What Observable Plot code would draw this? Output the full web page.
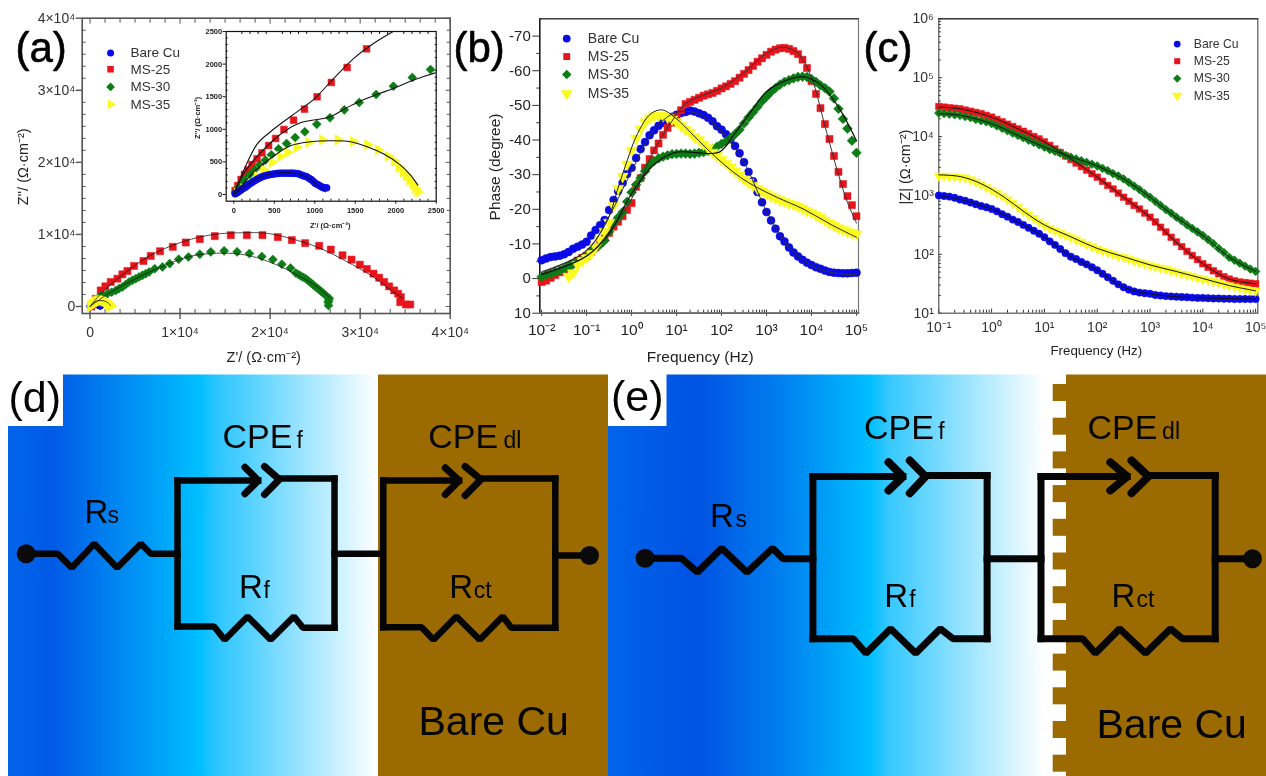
<!DOCTYPE html>
<html><head><meta charset="utf-8">
<script src="https://cdn.jsdelivr.net/npm/d3@7"></script>
<script src="https://cdn.jsdelivr.net/npm/@observablehq/plot@0.6"></script>
<style>
html,body{margin:0;padding:0;background:#fff}
#page{position:relative;width:1266px;height:776px;overflow:hidden;background:#fff}
#page svg{position:absolute;overflow:visible;background:transparent}
.soft{filter:blur(0.45px)}
</style></head><body><div id="page"></div>
<script>
const names=["Bare Cu","MS-25","MS-30","MS-35"];
const colors=["#0a0ae6","#e8141c","#0c7d14","#fafa1e"];
const symbols=["circle","square","square","triangle"];

// (a) Nyquist, main plot [Z', Z'']
const ny25=[[150,0],[630,1070],[1185,2230],[1700,2800],[2300,3400],[3040,3860],[3590,4460],[4150,4930],[4890,5630],[5930,6320],[6740,7020],[7780,7670],[9190,8280],[10630,8880],[12190,9350],[13850,9770],[15630,9900],[17410,9900],[19150,9900],[20850,9630],[22410,9210],[23890,8790],[25450,8420],[26740,7900],[28040,7110],[29040,6510],[29960,5810],[30740,5210],[31480,4560],[32110,4000],[32670,3400],[33220,2790],[33780,2230],[34220,1770],[34520,1300],[34450,600],[35080,280],[35560,280]];
const ny30=[[100,100],[600,800],[1185,1530],[1930,1770],[2400,1980],[2850,2230],[3220,2480],[3590,2700],[3960,3050],[4330,3400],[4700,3640],[5070,3860],[5440,4090],[5810,4320],[6180,4560],[6560,4790],[7190,5250],[8040,5490],[8850,5950],[9850,6560],[10930,6880],[12190,7250],[13410,7580],[14890,7720],[16330,7580],[17700,7350],[19080,6930],[20300,6510],[21300,5860],[22260,5350],[22850,4650],[23140,4440],[23410,4230],[23680,4050],[23960,3860],[24240,3580],[24520,3300],[24800,3000],[25080,2700],[25350,2420],[25630,2140],[25910,1840],[26190,1530],[26560,1160],[26500,850],[26450,600],[26480,140]];
const fit25=[[0,0],[1185,1770],[3780,4560],[6740,7110],[10630,9110],[13780,10000],[16740,10230],[19700,10140],[22670,9300],[25630,8040],[28590,6180],[31190,4320],[33220,2460],[34700,1160]];
const fit30=[[0,0],[2300,2000],[5630,4190],[8590,5860],[11190,6980],[13410,7350],[16000,7350],[18220,6880],[20820,5720],[23410,4090],[25260,2700],[26560,1300]];

// (a) inset [Z', Z'']
const in25=[[16,61],[49,138],[90,230],[131,307],[176,378],[225,460],[287,547],[348,639],[430,751],[516,859],[619,997],[738,1140],[873,1309],[1029,1498],[1205,1718],[1400,1948],[1640,2234]];
const in30=[[20,36],[61,112],[107,179],[156,250],[205,317],[258,383],[320,455],[389,527],[463,608],[553,700],[652,782],[758,874],[877,961],[1025,1079],[1188,1176],[1365,1298],[1549,1411],[1758,1534],[1971,1661],[2205,1794],[2430,1917]];
const in35=[[41,20],[123,87],[205,179],[287,281],[369,378],[471,496],[574,583],[664,649],[779,726],[922,797],[1094,838],[1287,838],[1475,813],[1652,762],[1783,685],[1906,588],[1983,511],[2041,419],[2090,342],[2131,286],[2172,215],[2213,153],[2246,87],[2274,36]];
const inBare=[[16,10],[32,22],[49,36],[70,55],[90,72],[115,92],[143,112],[170,138],[197,164],[222,184],[246,204],[272,222],[299,240],[323,256],[348,271],[373,282],[398,291],[425,300],[451,307],[480,312],[508,317],[537,322],[565,327],[596,327],[627,327],[657,327],[688,327],[713,327],[738,327],[768,322],[799,317],[825,304],[852,291],[877,281],[901,271],[928,250],[955,230],[980,202],[1004,174],[1030,156],[1057,138],[1082,120],[1106,102],[1127,100],[1147,102]];
const fitIn25=[[0,0],[124,374],[288,773],[453,963],[823,1306],[988,1459],[1235,1782],[1482,2089],[1730,2320],[1968,2500]];
const fitIn30=[[0,0],[124,323],[329,640],[618,963],[823,1100],[1194,1193],[1380,1321],[1565,1434],[1771,1536],[1977,1628],[2224,1756],[2500,1869]];
const fitIn35=[[41,41],[247,348],[453,553],[700,748],[947,809],[1235,824],[1441,809],[1647,732],[1853,620],[2059,451],[2183,297],[2273,143]];
const fitInBare=[[0,0],[100,90],[250,220],[400,300],[600,335],[800,315],[950,225],[1050,130],[1130,40]];

// (b) Bode phase; frequency sweep in decades
const logFreqB=d3.range(71).map(i=>-2+i/10);
const phaseBare=[-5.3,-5.8,-6.2,-6.4,-6.6,-7,-7.7,-8.6,-9.2,-9.8,-10.6,-12.4,-14,-15.4,-16.9,-19.8,-22.7,-25.3,-27.6,-30.2,-32,-34.8,-37.4,-39.4,-41.4,-42.8,-44.1,-45,-45.7,-46.7,-47.3,-47.8,-48.1,-48.5,-48.2,-47.7,-47.2,-46.4,-45.4,-44,-43,-41.7,-40.2,-38.3,-36.2,-33.6,-30.8,-28.1,-25,-22,-19.2,-16.8,-14.4,-12.2,-10.7,-9,-7.5,-6.4,-5.4,-4.6,-3.9,-3.3,-2.8,-2.3,-1.9,-1.7,-1.6,-1.5,-1.5,-1.6,-1.7];
const phase25=[1,.6,-.2,-1,-1.8,-2.6,-3.4,-4.3,-5.2,-6,-6.6,-7.7,-9,-10.2,-11.6,-13.2,-15,-16.4,-18,-19.8,-21.8,-26.5,-29,-32,-34.5,-37,-39,-41.5,-43.5,-45,-46.8,-48.6,-50.4,-51,-51.6,-52.2,-52.8,-53.2,-53.6,-54.2,-54.9,-55.5,-56.2,-57,-58,-59.1,-60.2,-61.4,-62.6,-63.6,-64.6,-65.5,-66.1,-66.5,-66.6,-66.3,-65.7,-64.8,-63.2,-60.8,-57,-53.3,-49.2,-44.6,-40.3,-35.4,-30.8,-27.3,-23.8,-21.2,-18];
const phase30=[-.5,-1,-1.4,-1.9,-2.3,-2.8,-3.5,-4.1,-4.7,-5.4,-6.2,-7.8,-8.8,-9.8,-11,-13.5,-16,-17.6,-19.2,-22.2,-24.9,-27.1,-29,-31,-32.8,-33.9,-34.7,-35.2,-35.6,-35.9,-36,-36.1,-36.1,-36,-36.1,-36.3,-36.5,-36.9,-37.4,-38.1,-38.9,-39.6,-40.6,-41.7,-43,-44.8,-46.5,-48,-49.6,-51.2,-52.5,-53.9,-55,-56,-56.8,-57.3,-57.8,-58.2,-58.3,-58.2,-57.6,-56.8,-55.8,-55,-54,-52,-49,-46.1,-43.3,-39.8,-36.3];
const phase35=[null,null,null,null,null,null,-.6,-1.6,-4,-5.2,-6,-7.2,-9.2,-11.2,-13.6,-16.2,-21,-26,-29.5,-33,-37,-40.5,-43.2,-45.2,-46.3,-46.9,-47.1,-47,-46.6,-46,-45.2,-44.1,-43,-42.2,-40.9,-40,-38.8,-37.7,-36.4,-35.5,-34.3,-33.2,-32.1,-31,-29.8,-28.7,-27.8,-26.9,-26,-25.2,-24.5,-23.8,-23.2,-22.7,-22.2,-21.7,-21.3,-20.9,-20.3,-19.6,-19,-18.3,-17.6,-16.8,-16,-15.3,-14.6,-14.1,-13.6,-13.2,-12.8];
const fitPhaseBare=[[-2,-2],[-1,-8],[-.5,-18],[0,-31],[.5,-43],[1,-48],[1.5,-47.5],[2,-42.5],[2.5,-33.5],[3,-19.5],[3.5,-9],[4,-3.8],[4.5,-1.6],[5,-1.2]];
const fitPhase25=[[-2,-1],[-1,-6.5],[-.5,-13.5],[0,-23],[.5,-37],[.9,-45.5],[1.2,-50.5],[1.6,-53],[2,-55],[2.5,-59.5],[3,-65],[3.35,-66.8],[3.7,-65],[4,-58],[4.3,-44],[4.6,-30],[4.8,-22],[5,-16]];
const fitPhase30=[[-2,-1.2],[-1,-6.5],[-.5,-13],[0,-24.5],[.5,-33],[1,-36.5],[1.5,-36.3],[1.95,-36.5],[2.3,-42],[2.7,-49],[3,-54],[3.5,-57.5],[3.8,-58.3],[4.2,-56],[4.6,-49.5],[5,-39.8]];
const fitPhase35=[[-2,-1.7],[-1.06,-7.5],[-.54,-16.7],[-.32,-25.4],[-.1,-34],[.13,-41.8],[.42,-47.5],[.68,-48.7],[1.01,-46],[1.31,-42.2],[1.68,-37.4],[2.05,-33],[2.42,-29.2],[2.79,-26.3],[3.24,-23.4],[3.83,-20],[4.42,-15.7],[5,-11.9]];

// (c) Bode modulus as log10|Z|
const logFreqC=d3.range(61).map(i=>-1+i/10);
const logZBare=[3,2.99,2.98,2.96,2.93,2.91,2.88,2.85,2.82,2.8,2.77,2.73,2.68,2.64,2.59,2.55,2.5,2.45,2.4,2.35,2.29,2.22,2.16,2.09,2.02,1.96,1.92,1.87,1.83,1.78,1.73,1.67,1.61,1.55,1.49,1.44,1.4,1.37,1.35,1.34,1.33,1.31,1.3,1.29,1.285,1.28,1.275,1.27,1.265,1.26,1.26,1.255,1.25,1.25,1.245,1.245,1.24,1.24,1.24,1.24,1.24];
const logZ25=[4.51,4.5,4.49,4.48,4.47,4.45,4.43,4.41,4.39,4.36,4.33,4.29,4.25,4.21,4.17,4.13,4.09,4.05,4,3.96,3.91,3.85,3.79,3.73,3.67,3.61,3.55,3.49,3.43,3.37,3.31,3.24,3.17,3.11,3.04,2.97,2.9,2.83,2.77,2.7,2.63,2.55,2.46,2.38,2.29,2.21,2.13,2.05,1.98,1.91,1.84,1.78,1.72,1.67,1.62,1.58,1.55,1.53,1.52,1.51,1.5];
const logZ30=[4.4,4.39,4.38,4.37,4.36,4.34,4.32,4.29,4.27,4.25,4.22,4.18,4.14,4.1,4.06,4.02,3.98,3.94,3.9,3.86,3.82,3.78,3.75,3.72,3.68,3.65,3.62,3.59,3.56,3.53,3.5,3.46,3.42,3.37,3.33,3.28,3.22,3.16,3.1,3.03,2.97,2.9,2.83,2.76,2.7,2.63,2.57,2.5,2.44,2.38,2.32,2.25,2.18,2.1,2.03,1.95,1.9,1.85,1.8,1.75,1.71];
const logZ35=[3.33,3.33,3.32,3.32,3.31,3.3,3.27,3.23,3.19,3.14,3.09,3.04,2.99,2.93,2.87,2.8,2.73,2.67,2.61,2.55,2.49,2.44,2.4,2.36,2.32,2.29,2.25,2.21,2.17,2.13,2.09,2.06,2.03,2,1.97,1.95,1.92,1.89,1.86,1.84,1.81,1.79,1.77,1.75,1.72,1.7,1.67,1.65,1.63,1.6,1.58,1.56,1.54,1.52,1.49,1.47,1.45,1.43,1.41,1.39,1.38];
const fitZBare=[[-1,3],[-.59,2.93],[0,2.77],[.5,2.55],[1,2.29],[1.52,1.95],[2,1.73],[2.5,1.44],[3,1.33],[3.49,1.28],[4,1.26],[5,1.24]];
const fitZ25=[[-1,4.5],[-.59,4.47],[0,4.33],[.5,4.13],[1,3.91],[1.52,3.61],[2,3.31],[2.5,2.97],[3,2.63],[3.49,2.21],[4,1.84],[4.5,1.58],[5,1.5]];
const fitZ30=[[-1,4.39],[-.59,4.36],[0,4.22],[.5,4.02],[1,3.82],[1.52,3.65],[2,3.5],[2.5,3.28],[3,2.97],[3.49,2.63],[4,2.32],[4.5,1.95],[5,1.71]];
const fitZ35=[[-1,3.35],[-.59,3.32],[-.2,3.2],[.24,2.97],[.62,2.72],[1,2.5],[1.52,2.29],[2,2.1],[2.5,1.96],[3,1.82],[3.49,1.71],[4,1.59],[4.5,1.47],[5,1.38]];

// tick labels
const xTicksA=[0,1e4,2e4,3e4,4e4], xLabelsA=["0","1×10⁴","2×10⁴","3×10⁴","4×10⁴"];
const minorA=d3.range(0,4e4,1e4).flatMap(k=>[1,2,3,4,5].map(i=>k+i*1e4/6));
const insetTicks=[0,500,1000,1500,2000,2500];
const insetMinor=[100,200,300,400,600,700,800,900,1100,1200,1300,1400,1600,1700,1800,1900,2100,2200,2300,2400];
const decadesB=[-2,-1,0,1,2,3,4,5], labelsB=["10⁻²","10⁻¹","10⁰","10¹","10²","10³","10⁴","10⁵"];
const decadesC=[-1,0,1,2,3,4,5], labelsC=["10⁻¹","10⁰","10¹","10²","10³","10⁴","10⁵"];
const decadesCy=[1,2,3,4,5,6], labelsCy=["10¹","10²","10³","10⁴","10⁵","10⁶"];
const phaseTicks=[-70,-60,-50,-40,-30,-20,-10,0,10], phaseMinor=[-65,-55,-45,-35,-25,-15,-5,5];
const minorsLog=(from,to)=>d3.range(from,to).flatMap(k=>[2,3,4,5,6,7,8,9].map(m=>m*10**k));
const decadeLabel=(decs,labs)=>d=>labs[decs.indexOf(Math.round(Math.log10(d)))];

// circuit geometry of (d) and (e), in page pixels
const teeth=[384,417.7,451.4,485.1,518.8,552.5,586.2,619.9,653.6,687.3,721,754.7];
const wiresD=[
 [[25.7,553.3],[57.3,553.3],[71.2,567.3],[93.7,543.3],[116.6,567.3],[140.4,543.3],[150.3,553.3],[177,553.3]],
 [[334,478],[278.8,478]],[[177,480],[257.8,480]],[[177,480],[177,626]],[[334,478],[334,627.3]],
 [[177,626],[213.5,626],[224.2,639.3],[247.1,616],[270.1,639.3],[293.4,616],[302.5,627.3],[334,627.3]],
 [[334,553.3],[381.6,553.3]],
 [[382.8,480],[458.7,480]],[[480.4,478],[554.8,478]],[[382.8,480],[382.8,626.7]],[[554.8,478],[554.8,627.3]],
 [[382.8,626.7],[421.1,626.7],[433,639.3],[455.9,616],[479.2,639.3],[502.2,616],[510.9,627.3],[554.8,627.3]],
 [[554.8,555],[589,555]]
];
const chevronsD=[
 [[244.4,466.7],[257.8,480],[244.4,493.3]],[[264,466],[278.8,479],[264,494]],
 [[444.8,467.3],[458.7,480],[444.8,494]],[[464.6,466],[480.4,479],[464.6,495]]
];
const wiresE=[
 [[644.6,557.7],[680.7,557.7],[696.9,571.7],[721.1,547.7],[746.6,571.7],[772,547.7],[782.7,558.3],[812.4,558.3]],
 [[812.4,476],[902.5,476]],[[925,475],[986.6,475]],[[812.4,476],[812.4,638.3]],[[986.6,475],[986.6,638.3]],
 [[812.4,638.3],[852.8,638.3],[865.5,652.7],[890.1,628.3],[915.2,652.7],[939.8,628.3],[952.6,638.3],[986.6,638.3]],
 [[986.6,558.3],[1040.5,558.3]],
 [[1040.5,476],[1126.8,476]],[[1148,475],[1214.7,475]],[[1040.5,476],[1040.5,638.3]],[[1214.7,475],[1214.7,638.3]],
 [[1040.5,638.3],[1082.2,638.3],[1094.9,652.7],[1119.1,628.3],[1145,652.7],[1170,628.3],[1182,638.3],[1214.7,638.3]],
 [[1214.7,558.3],[1250,558.3]]
];
const chevronsE=[
 [[888,461.7],[902.5,476],[888,490]],[[909.3,460],[925,476],[909.3,492.7]],
 [[1109.8,461.7],[1126.8,476],[1109.8,490]],[[1131,460],[1148,476],[1131,492.7]]
];
const terminals=[[25.7,553.3],[589,555],[644.6,557.7],[1252,558.3]];
const circuitLabels=[
 {t:"(d)",x:8,y:411.5,s:43},{t:"(e)",x:610.5,y:410,s:43},
 {t:"CPE",x:222,y:447,s:34},{t:"f",x:296,y:447,s:23},{t:"R",x:84,y:522,s:33},{t:"s",x:107,y:522,s:23},
 {t:"R",x:238.4,y:597,s:33},{t:"f",x:263,y:597,s:23},{t:"CPE",x:427.8,y:447,s:34},{t:"dl",x:503,y:447,s:23},
 {t:"R",x:448.8,y:597,s:33},{t:"ct",x:473.3,y:597,s:23},{t:"Bare Cu",x:418,y:734,s:41},
 {t:"CPE",x:863.4,y:438.5,s:34},{t:"f",x:937.7,y:438.5,s:23},{t:"R",x:709.6,y:526.7,s:33},{t:"s",x:735,y:526.7,s:23},
 {t:"R",x:883.8,y:606.7,s:33},{t:"f",x:908.8,y:606.7,s:23},{t:"CPE",x:1087,y:438.5,s:34},{t:"dl",x:1161.6,y:438.5,s:23},
 {t:"R",x:1111,y:606.7,s:33},{t:"ct",x:1136,y:606.7,s:23},{t:"Bare Cu",x:1096,y:737,s:41}
];

const FONT='"Liberation Sans",Arial,sans-serif';
const page=document.getElementById("page");
function place(node,left,top,soft=true){
  node.style.left=left+"px";node.style.top=top+"px";
  if(soft)node.classList.add("soft");
  page.appendChild(node);
}
const symbolRotate=(i,tri)=>i===2?45:i===3?tri:0;
const points=(data,i,r,tri=0,opts={})=>Plot.dot(data,{x:d=>d[0],y:d=>d[1],symbol:symbols[i],fill:colors[i],stroke:colors[i],strokeWidth:.5,r,rotate:symbolRotate(i,tri),...opts});
const fitLine=(data,w=1,o={})=>Plot.line(data,{x:d=>d[0],y:d=>d[1],stroke:"#111",strokeWidth:w,curve:"catmull-rom",...o});
function legend(xVal,textVal,rows,size,radii,tri,color="#333"){
  return [
    ...names.map((n,i)=>Plot.dot([n],{x:()=>xVal,y:()=>rows[i],symbol:symbols[i],fill:colors[i],r:radii[i],rotate:symbolRotate(i,tri)})),
    Plot.text(names,{x:()=>textVal,y:(d,i)=>rows[i],text:d=>d,textAnchor:"start",fontSize:size,fill:color})
  ];
}
const axisText=(text,o)=>Plot.text([text],{text:d=>d,fill:"#222",...o});

// ---------- (a)
const panelA=Plot.plot({
  width:450,height:370,marginLeft:81.7,marginRight:.3,marginTop:17.7,marginBottom:57,
  style:{fontFamily:FONT,background:"transparent",overflow:"visible"},
  x:{domain:[-870,40000]},y:{domain:[-970,40000]},
  marks:[
    Plot.axisX({ticks:minorA,tickSize:4,dy:-4,tickFormat:()=>"",stroke:"#555"}),
    Plot.axisX({anchor:"top",ticks:minorA,tickSize:4,dy:4,tickFormat:()=>"",stroke:"#555"}),
    Plot.axisX({anchor:"top",ticks:xTicksA,tickSize:5,dy:5,tickFormat:()=>"",stroke:"#555"}),
    Plot.axisY({ticks:minorA,tickSize:4,dx:4,tickFormat:()=>"",stroke:"#555"}),
    Plot.axisY({anchor:"right",ticks:minorA,tickSize:4,dx:-4,tickFormat:()=>"",stroke:"#555"}),
    Plot.axisY({anchor:"right",ticks:xTicksA,tickSize:5,dx:-5,tickFormat:()=>"",stroke:"#555"}),
    Plot.axisX({ticks:xTicksA,tickSize:6,tickPadding:8,fontSize:14,fill:"#333",stroke:"#555",strokeWidth:1.4,tickFormat:(d,i)=>xLabelsA[i],label:null}),
    Plot.axisX({ticks:xTicksA,tickSize:5,dy:-5,tickFormat:()=>"",stroke:"#555",strokeWidth:1.4}),
    Plot.axisY({ticks:xTicksA,tickSize:6,tickPadding:1,fontSize:14,fill:"#333",stroke:"#555",strokeWidth:1.4,tickFormat:(d,i)=>xLabelsA[i],label:null}),
    Plot.frame({stroke:"#555",strokeWidth:1.6}),
    ...legend(2280,4500,[35180,32920,30460,28060],13.5,[3.5,3.7,3.5,3.6],90),
    points(inBare,0,3.4),points(ny25,1,4),points(ny30,2,3.6),points(in35,3,4,90),
    fitLine(fit25,.8,{strokeDasharray:"3 1"}),fitLine(fit30,.8,{strokeDasharray:"3 1"}),fitLine(fitIn35,.8),
    axisText("Z'/ (Ω·cm⁻²)",{frameAnchor:"bottom",dx:-2.5,dy:44,fontSize:14.5,lineAnchor:"middle"}),
    axisText("Z''/ (Ω·cm⁻²)",{frameAnchor:"left",textAnchor:"middle",dx:-59,dy:1,rotate:-90,fontSize:14.5})
  ]
});
place(panelA,0,0);

// inset
const inset=Plot.plot({
  width:260,height:240,marginLeft:35.7,marginRight:14.3,marginTop:31,marginBottom:39.3,
  style:{fontFamily:FONT,background:"transparent",overflow:"visible"},
  x:{domain:[-94,2500]},y:{domain:[-103,2500]},
  marks:[
    Plot.axisX({ticks:insetMinor,tickSize:2,dy:-2,tickFormat:()=>"",stroke:"#111"}),
    Plot.axisX({anchor:"top",ticks:insetMinor,tickSize:2,dy:2,tickFormat:()=>"",stroke:"#111"}),
    Plot.axisY({ticks:insetMinor,tickSize:2,dx:2,tickFormat:()=>"",stroke:"#111"}),
    Plot.axisY({anchor:"right",ticks:insetMinor,tickSize:2,dx:-2,tickFormat:()=>"",stroke:"#111"}),
    Plot.axisX({ticks:insetTicks,tickSize:3,tickPadding:3,fontSize:7.5,fontWeight:"bold",fill:"#222",stroke:"#111",tickFormat:d=>String(d),label:null}),
    Plot.axisY({ticks:insetTicks,tickSize:3,tickPadding:1,fontSize:7.5,fontWeight:"bold",fill:"#222",stroke:"#111",tickFormat:d=>String(d),label:null}),
    Plot.frame({stroke:"#111",strokeWidth:1.2}),
    points(in25,1,3.8),points(in30,2,3.6),points(in35,3,3.9,90),points(inBare,0,3.5),
    fitLine(fitIn25,1.1,{clip:true}),fitLine(fitIn30,1.1,{clip:true}),fitLine(fitIn35,1.1),fitLine(fitInBare,.9),
    axisText("Z'/ (Ω·cm⁻²)",{frameAnchor:"bottom",dy:24,fontSize:7.5,fontWeight:"bold",lineAnchor:"middle",dx:-1}),
    axisText("Z''/ (Ω·cm⁻²)",{frameAnchor:"left",textAnchor:"middle",dx:-29,dy:1.5,rotate:-90,fontSize:7.5,fontWeight:"bold"})
  ]
});
place(inset,190,0);

// ---------- (b)
const rowsOf=(arr,lf)=>arr.map((v,i)=>[10**lf[i],v]).filter(d=>d[1]!==null);
const unlog=arr=>arr.map(d=>[10**d[0],d[1]]);
const panelB=Plot.plot({
  width:420,height:370,marginLeft:89.3,marginRight:12,marginTop:18.3,marginBottom:57.3,
  style:{fontFamily:FONT,background:"transparent",overflow:"visible"},
  x:{type:"log",domain:[.0091,111000]},y:{domain:[10,-75]},
  marks:[
    Plot.axisX({ticks:minorsLog(-2,5),tickSize:3,dy:-3,tickFormat:()=>"",stroke:"#333"}),
    Plot.axisX({ticks:decadesB.map(d=>10**d),tickSize:3,tickPadding:8,fontSize:15.5,fill:"#222",stroke:"#333",tickFormat:decadeLabel(decadesB,labelsB),label:null}),
    Plot.axisX({ticks:decadesB.map(d=>10**d),tickSize:3,dy:-3,tickFormat:()=>"",stroke:"#333"}),
    Plot.axisY({ticks:phaseMinor,tickSize:3,tickFormat:()=>"",stroke:"#333"}),
    Plot.axisY({ticks:phaseTicks,tickSize:7,tickPadding:2,fontSize:15,fill:"#222",stroke:"#333",tickFormat:d=>String(d),label:null}),
    Plot.frame({stroke:"#777",strokeWidth:1.2}),
    Plot.frame({anchor:"left",stroke:"#000",strokeWidth:1.2}),
    Plot.frame({anchor:"top",stroke:"#222",strokeWidth:1}),
    Plot.frame({anchor:"bottom",stroke:"#666",strokeWidth:1.8}),
    ...legend(10**(-2+(566-541)/44.8),10**(-2+(587-541)/44.8),[-69.3,-64.1,-58.9,-53.4],14,[3.9,3.9,3.8,4.4],180),
    points(rowsOf(phaseBare,logFreqB),0,4),points(rowsOf(phase25,logFreqB),1,4),points(rowsOf(phase30,logFreqB),2,3.9),points(rowsOf(phase35,logFreqB),3,4.2,180),
    fitLine(unlog(fitPhaseBare),1,{stroke:"#333"}),fitLine(unlog(fitPhase25),1,{stroke:"#333"}),fitLine(unlog(fitPhase30),1.2),fitLine(unlog(fitPhase35),1,{stroke:"#222"}),
    axisText("Frequency (Hz)",{frameAnchor:"bottom",dx:1,dy:43.5,fontSize:15.5,lineAnchor:"middle"}),
    axisText("Phase (degree)",{frameAnchor:"left",textAnchor:"middle",dx:-44.5,dy:1,rotate:-90,fontSize:15.5})
  ]
});
place(panelB,450,0);

// ---------- (c)
const rowsZ=arr=>arr.map((v,i)=>[10**logFreqC[i],10**v]);
const unlog2=arr=>arr.map(d=>[10**d[0],10**d[1]]);
const panelC=Plot.plot({
  width:406,height:370,marginLeft:78.3,marginRight:8.7,marginTop:18.3,marginBottom:57.3,
  style:{fontFamily:FONT,background:"transparent",overflow:"visible"},
  x:{type:"log",domain:[.1,110000]},y:{type:"log",domain:[10,1e6]},
  marks:[
    Plot.axisX({ticks:minorsLog(-1,5),tickSize:3,dy:-3,tickFormat:()=>"",stroke:"#333"}),
    Plot.axisX({ticks:decadesC.map(d=>10**d),tickSize:4,dy:-4,tickFormat:()=>"",stroke:"#333"}),
    Plot.axisY({ticks:minorsLog(1,6),tickSize:2.5,dx:2.5,tickFormat:()=>"",stroke:"#333"}),
    Plot.axisY({ticks:decadesCy.map(d=>10**d),tickSize:3.5,dx:3.5,tickFormat:()=>"",stroke:"#333"}),
    Plot.axisX({ticks:decadesC.map(d=>10**d),tickSize:0,tickPadding:9,fontSize:14,fill:"#333",tickFormat:decadeLabel(decadesC,labelsC),label:null}),
    Plot.axisY({ticks:decadesCy.map(d=>10**d),tickSize:0,tickPadding:5,fontSize:14,fill:"#333",tickFormat:decadeLabel(decadesCy,labelsCy),label:null}),
    Plot.frame({stroke:"#555",strokeWidth:1.2}),
    Plot.frame({anchor:"top",stroke:"#222",strokeWidth:1}),
    ...legend(10**(-1+(1176.7-938.3)/52.8),10**(-1+(1193.3-938.3)/52.8),[10**5.57,10**5.28,10**4.985,10**4.695],12.2,[3.4,3.4,3.3,3.8],180),
    points(rowsZ(logZBare),0,3.7),points(rowsZ(logZ25),1,3.7),points(rowsZ(logZ30),2,3.5),points(rowsZ(logZ35),3,3.6,180),
    fitLine(unlog2(fitZBare)),fitLine(unlog2(fitZ25)),fitLine(unlog2(fitZ30)),fitLine(unlog2(fitZ35)),
    axisText("Frequency (Hz)",{frameAnchor:"bottom",dx:-2,dy:38,fontSize:13.3,lineAnchor:"middle"}),
    axisText("|Z| (Ω·cm⁻²)",{frameAnchor:"left",textAnchor:"middle",dx:-33,dy:1,rotate:-90,fontSize:14.5})
  ]
});
place(panelC,860,0);

// panel letters drawn on a page-sized layer
const letters=[{t:"(a)",x:15,y:61},{t:"(b)",x:453,y:61},{t:"(c)",x:863,y:61}];
const W=1266;
const letterPlot=Plot.plot({
  width:W,height:370,margin:0,style:{fontFamily:FONT,background:"transparent",overflow:"visible"},
  x:{domain:[0,W],axis:null},y:{domain:[370,0],axis:null},
  marks:[Plot.text(letters,{x:"x",y:"y",text:"t",fontSize:42,textAnchor:"start",lineAnchor:"bottom",fill:"#000",stroke:"#000",strokeWidth:.6})]
});
place(letterPlot,0,0);

// ---------- (d), (e)
const gradDefs=()=>{
  const defs=d3.create("svg:defs");
  const add=(id,stops)=>{const g=defs.append("linearGradient").attr("id",id).attr("x1","0").attr("x2","1").attr("y1","0").attr("y2","0");
    stops.forEach(([o,c])=>g.append("stop").attr("offset",o).attr("stop-color",c));};
  add("gradD",[[0,"#0064ea"],[.12,"#005ae6"],[.52,"#00bfff"],[.56,"#29c5ff"],[1,"#ffffff"]]);
  add("gradE",[[0,"#0064ea"],[.2,"#0052e2"],[.4,"#0082f0"],[.59,"#00bfff"],[.63,"#35c8ff"],[.98,"#ffffff"],[1,"#ffffff"]]);
  return defs.node();
};
const BROWN="#9b6a00";
const wires=(polys,w)=>polys.map(p=>Plot.line(p,{x:d=>d[0],y:d=>d[1],stroke:"#050505",strokeWidth:w,strokeLinejoin:"miter",strokeLinecap:"square"}));
const chev=(polys,w)=>polys.map(p=>Plot.line(p,{x:d=>d[0],y:d=>d[1],stroke:"#050505",strokeWidth:w,strokeLinejoin:"miter",strokeLinecap:"round"}));
const circuit=Plot.plot({
  width:W,height:406,margin:0,style:{fontFamily:FONT,background:"transparent",overflow:"visible"},
  x:{domain:[0,W],axis:null},y:{domain:[776,370],axis:null},
  marks:[
    gradDefs,
    Plot.rect([[8,378]],{x1:d=>d[0],x2:d=>d[1],y1:()=>374.5,y2:()=>776,fill:"url(#gradD)"}),
    Plot.rect([[378,608]],{x1:d=>d[0],x2:d=>d[1],y1:()=>374.5,y2:()=>776,fill:BROWN}),
    Plot.rect([[608,1053]],{x1:d=>d[0],x2:d=>d[1],y1:()=>374.5,y2:()=>776,fill:"url(#gradE)"}),
    Plot.rect([[1066,1266]],{x1:d=>d[0],x2:d=>d[1],y1:()=>374.5,y2:()=>776,fill:BROWN}),
    Plot.rect([[1053,1066]],{x1:d=>d[0],x2:d=>d[1],y1:()=>374.5,y2:()=>776,fill:"#fff"}),
    Plot.rect(teeth,{x1:()=>1052.7,x2:()=>1066.5,y1:d=>d,y2:d=>Math.min(d+17,776),fill:BROWN}),
    Plot.rect([[8,63],[608,666.5]],{x1:d=>d[0],x2:d=>d[1],y1:()=>374,y2:()=>426,fill:"#fff"}),
    ...wires(wiresD,6.5),...chev(chevronsD,7),
    ...wires(wiresE,7),...chev(chevronsE,8),
    Plot.dot(terminals,{x:d=>d[0],y:d=>d[1],r:9.5,fill:"#0a0a0a"}),
    Plot.text(circuitLabels,{x:"x",y:"y",text:"t",fontSize:"s",textAnchor:"start",lineAnchor:"bottom",fill:"#050505"})
  ]
});
place(circuit,0,370);
</script></body></html>
